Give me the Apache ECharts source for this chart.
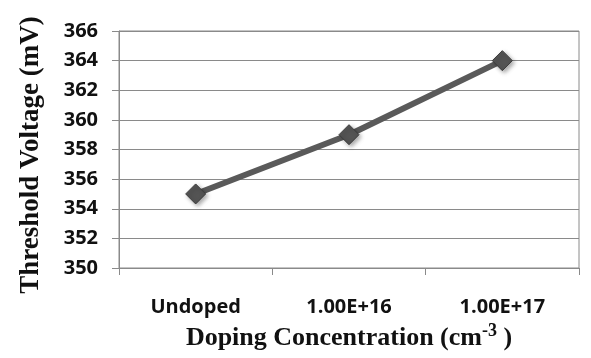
<!DOCTYPE html>
<html><head><meta charset="utf-8">
<script src="https://cdn.jsdelivr.net/npm/echarts@6/dist/echarts.min.js"></script>
<style>html,body{margin:0;padding:0;background:#fff}#c{width:591px;height:358px}</style>
</head><body><div id="c"></div>
<script>
const categories = ['Undoped', '1.00E+16', '1.00E+17'];
const thresholdVoltage = [355, 359, 364];
const yMin = 350, yMax = 366, yStep = 2;

const chart = echarts.init(document.getElementById('c'), null, {renderer: 'canvas'});
chart.setOption({
  animation: false,
  backgroundColor: '#fff',
  grid: {left: 119, right: 12, top: 31, bottom: 90, show: true, borderColor: '#8a8a8a', borderWidth: 1},
  xAxis: {
    type: 'category', data: categories, boundaryGap: true,
    axisLine: {lineStyle: {color: '#8a8a8a', width: 1}},
    axisTick: {show: true, length: 7, lineStyle: {color: '#8a8a8a'}},
    axisLabel: {color: '#111', fontFamily: 'Open Sans', fontWeight: 'bold', fontSize: 20, margin: 29},
    name: 'Doping Concentration (cm{sup|-3} )',
    nameLocation: 'middle', nameGap: 54,
    nameTextStyle: {color: '#111', fontFamily: 'Liberation Serif', fontWeight: 'bold', fontSize: 26,
      rich: {sup: {fontFamily: 'Liberation Serif', fontWeight: 'bold', fontSize: 18, color: '#111', verticalAlign: 'top', padding: [0,0,14,0]}}}
  },
  yAxis: {
    type: 'value', min: yMin, max: yMax, interval: yStep,
    axisLine: {show: true, lineStyle: {color: '#8a8a8a', width: 1}},
    axisTick: {show: true, length: 7, lineStyle: {color: '#8a8a8a'}},
    splitLine: {lineStyle: {color: '#8a8a8a', width: 1}},
    axisLabel: {color: '#111', fontFamily: 'Open Sans', fontWeight: 'bold', fontSize: 20, margin: 21},
    name: 'Threshold Voltage (mV)', nameLocation: 'middle', nameGap: 74,
    nameTextStyle: {color: '#111', fontFamily: 'Liberation Serif', fontWeight: 'bold', fontSize: 27, padding: [0, 11, 0, 0]}
  },
  series: [{
    type: 'line', data: thresholdVoltage,
    symbol: 'diamond', symbolSize: 20,
    lineStyle: {color: '#5a5a5a', width: 6},
    itemStyle: {color: '#545454', borderColor: '#3c3c3c', borderWidth: 1, shadowColor: 'rgba(0,0,0,0.35)', shadowBlur: 4, shadowOffsetX: 2, shadowOffsetY: 2}
  }]
});
</script></body></html>
